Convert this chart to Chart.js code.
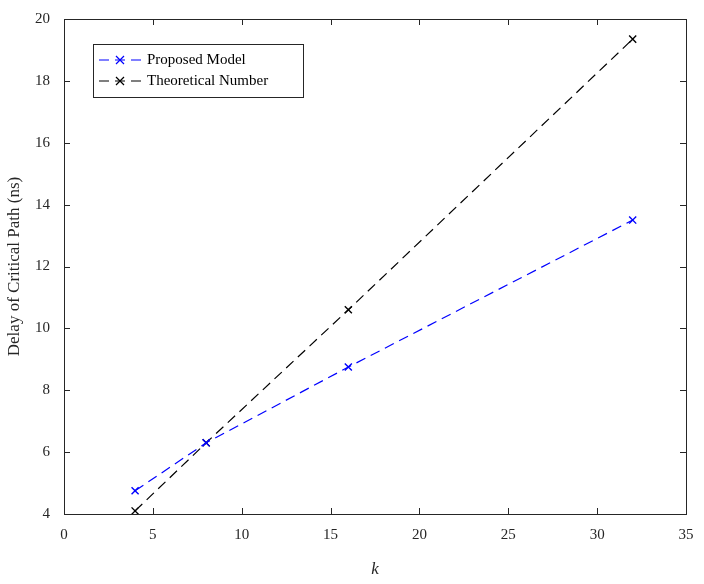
<!DOCTYPE html>
<html>
<head>
<meta charset="utf-8">
<script src="https://cdn.jsdelivr.net/npm/chart.js@4"></script>
<style>
  html, body { margin: 0; padding: 0; background: #fff; }
  #wrap { width: 704px; height: 584px; }
</style>
</head>
<body>
<div id="wrap"><canvas id="c"></canvas></div>
<script>
'use strict';

// ─── Data ─────────────────────────────────────────────────────────────────────

const kValues     = [4, 8, 16, 32];
const proposed    = [4.75, 6.3, 8.75, 13.5];
const theoretical = [4.1, 6.3, 10.6, 19.35];
const xTicks      = [0, 5, 10, 15, 20, 25, 30, 35];
const yTicks      = [4, 6, 8, 10, 12, 14, 16, 18, 20];

const FONT = '"Liberation Serif", "DejaVu Serif", serif';

function toPoints(ys) {
  return kValues.map((x, i) => ({ x, y: ys[i] }));
}

// ─── Box, inward ticks and legend (MATLAB look) ───────────────────────────────

const matlabFrame = {
  id: 'matlabFrame',
  afterDraw(chart) {
    const { ctx, chartArea: a, scales } = chart;
    ctx.save();
    ctx.strokeStyle = '#262626';
    ctx.lineWidth = 1;
    ctx.strokeRect(a.left + 0.5, a.top + 0.5, a.right - a.left, a.bottom - a.top);
    const t = 6;
    ctx.beginPath();
    xTicks.forEach((v) => {
      const px = Math.round(scales.x.getPixelForValue(v)) + 0.5;
      ctx.moveTo(px, a.bottom); ctx.lineTo(px, a.bottom - t);
      ctx.moveTo(px, a.top);    ctx.lineTo(px, a.top + t);
    });
    yTicks.forEach((v) => {
      const py = Math.round(scales.y.getPixelForValue(v)) + 0.5;
      ctx.moveTo(a.left, py);  ctx.lineTo(a.left + t, py);
      ctx.moveTo(a.right, py); ctx.lineTo(a.right - t, py);
    });
    ctx.stroke();

    // legend box
    const lx = 93, ly = 44, lw = 210, lh = 53;
    ctx.fillStyle = '#fff';
    ctx.fillRect(lx, ly, lw, lh);
    ctx.strokeRect(lx + 0.5, ly + 0.5, lw, lh);
    const items = [
      { label: 'Proposed Model', color: '#0000ff', y: ly + 16 },
      { label: 'Theoretical Number', color: '#000000', y: ly + 37 },
    ];
    ctx.font = '15px ' + FONT;
    ctx.textBaseline = 'middle';
    items.forEach((it) => {
      ctx.strokeStyle = it.color;
      ctx.lineWidth = 1.2;
      ctx.setLineDash([10, 6]);
      ctx.beginPath();
      ctx.moveTo(lx + 6, it.y); ctx.lineTo(lx + 48, it.y);
      ctx.stroke();
      ctx.setLineDash([]);
      const cx = lx + 27, s = 4;
      ctx.beginPath();
      ctx.moveTo(cx - s, it.y - s); ctx.lineTo(cx + s, it.y + s);
      ctx.moveTo(cx + s, it.y - s); ctx.lineTo(cx - s, it.y + s);
      ctx.stroke();
      ctx.fillStyle = '#000';
      ctx.fillText(it.label, lx + 54, it.y);
    });
    ctx.restore();
  },
};

// ─── Chart ────────────────────────────────────────────────────────────────────

function seriesStyle(color) {
  return {
    borderColor: color,
    backgroundColor: color,
    borderWidth: 1.2,
    borderDash: [10, 6],
    pointStyle: 'crossRot',
    pointRadius: 5,
    pointBorderWidth: 1.4,
    pointBorderColor: color,
    tension: 0,
  };
}

new Chart(document.getElementById('c'), {
  type: 'line',
  data: {
    datasets: [
      { label: 'Proposed Model', data: toPoints(proposed), ...seriesStyle('#0000ff') },
      { label: 'Theoretical Number', data: toPoints(theoretical), ...seriesStyle('#000000') },
    ],
  },
  options: {
    responsive: true,
    maintainAspectRatio: false,
    animation: false,
    layout: { padding: { top: 19, right: 18, left: 0, bottom: 0 } },
    plugins: { legend: { display: false }, tooltip: { enabled: false } },
    scales: {
      x: {
        type: 'linear',
        min: 0, max: 35,
        afterFit: (s) => { s.height = 70; },
        afterBuildTicks: (s) => { s.ticks = xTicks.map((v) => ({ value: v })); },
        grid: { display: false },
        border: { display: false },
        ticks: { color: '#262626', font: { family: FONT, size: 15 }, padding: 4 },
        title: {
          display: true, text: 'k', color: '#262626',
          font: { family: FONT, size: 17, style: 'italic' }, padding: { top: 0 },
        },
      },
      y: {
        min: 4, max: 20,
        afterFit: (s) => { s.width = 64; },
        afterBuildTicks: (s) => { s.ticks = yTicks.map((v) => ({ value: v })); },
        grid: { display: false },
        border: { display: false },
        ticks: { color: '#262626', font: { family: FONT, size: 15 }, padding: 6 },
        title: {
          display: true, text: 'Delay of Critical Path (ns)', color: '#262626',
          font: { family: FONT, size: 17 }, padding: { bottom: 4 },
        },
      },
    },
  },
  plugins: [matlabFrame],
});
</script>
</body>
</html>
